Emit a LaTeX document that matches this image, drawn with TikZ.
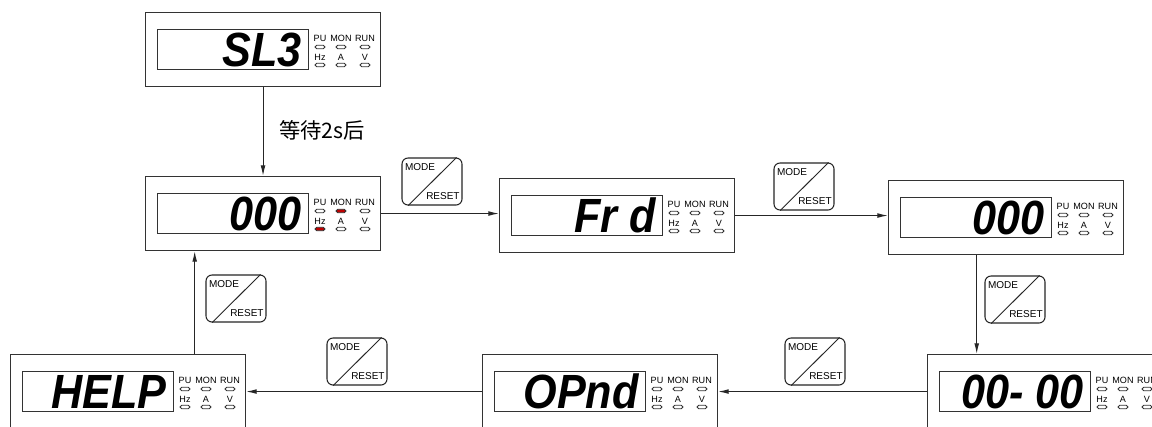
\documentclass[tikz,border=0pt]{standalone}
\usepackage{fontspec}
\setmainfont{Liberation Sans}
\newfontfamily\cjkfnt{Noto Sans CJK SC}
\usetikzlibrary{arrows.meta,calc}

\tikzset{
 ln/.style={draw=black!85, line width=0.8pt},
 dispbox/.style={draw=black!80, line width=0.8pt, minimum width=176.25pt, minimum height=55.5pt, inner sep=0pt, anchor=north west},
 screen/.style={draw=black!80, line width=0.7pt},
 dig/.style={inner sep=0pt, anchor=south east, font=\fontsize{36}{36}\selectfont\bfseries\itshape},
 ledlab/.style={inner sep=0pt, font=\fontsize{6.8}{6.8}\selectfont},
 led/.style={draw=black!80, line width=0.6pt, rounded corners=1.3pt, minimum width=7.5pt, minimum height=2.6pt, inner sep=0pt, fill=white},
 ledon/.style={led, fill=red!75!black},
 keybox/.style={draw=black!85, line width=0.8pt, rounded corners=4.5pt, minimum width=45pt, minimum height=35.25pt, inner sep=0pt},
 keytxt/.style={inner sep=0pt, font=\fontsize{7.5}{7.5}\selectfont},
 arr/.style={ln, -{Latex[length=8pt,width=3.6pt]}},
}

% name, left, top, text, MON led style, Hz led style
\newcommand\dispunit[6]{%
 \node[dispbox] (#1) at (#2,#3) {};
 \draw[screen] (#2+12,#3+17) rectangle (#2+163,#3+57);
 \node[dig] (#1t) at (#2+157,#3+55) {\scalebox{0.9}[1]{#4}};
 \node[ledlab] (#1a) at (#2+175,#3+26) {PU};
 \node[ledlab] (#1b) at (#2+196,#3+26) {MON};
 \node[ledlab] (#1c) at (#2+220,#3+26) {RUN};
 \node[led] (#1d) at (#2+175,#3+35) {};
 \node[#5] (#1e) at (#2+196,#3+35) {};
 \node[led] (#1f) at (#2+220,#3+35) {};
 \node[ledlab] (#1g) at (#2+175,#3+45) {Hz};
 \node[ledlab] (#1h) at (#2+196,#3+45) {A};
 \node[ledlab] (#1i) at (#2+220,#3+45) {V};
 \node[#6] (#1j) at (#2+175,#3+53) {};
 \node[led] (#1k) at (#2+196,#3+53) {};
 \node[led] (#1l) at (#2+220,#3+53) {};
}

% name, center x, center y
\newcommand\modekey[3]{%
 \node[keybox] (#1) at (#2,#3) {};
 \draw[ln, line width=0.7pt] ([xshift=5pt]#1.south west) -- ([xshift=-4.5pt]#1.north east);
 \node[keytxt, anchor=north west] (#1m) at ([shift={(2.5pt,-4pt)}]#1.north west) {MODE};
 \node[keytxt, anchor=south east] (#1r) at ([shift={(-2pt,4pt)}]#1.south east) {RESET};
}

\begin{document}
\begin{tikzpicture}[x=0.75pt,y=-0.75pt]
\useasboundingbox (0,0) rectangle (1152,426);
\clip (0,0) rectangle (1152,426);
\fill[white] (0,0) rectangle (1152,426);

\dispunit{b1}{145}{12}{SL3}{led}{led}
\dispunit{b2}{145}{176}{000}{ledon}{ledon}
\dispunit{b3}{499}{178}{Fr d}{led}{led}
\dispunit{b4}{888}{180}{000}{led}{led}
\dispunit{b5}{482}{354}{OPnd}{led}{led}
\dispunit{b6}{10}{354}{HELP}{led}{led}
\dispunit{b7}{927}{354}{00- 00}{led}{led}

\modekey{k1}{432}{181.5}
\modekey{k2}{804}{186.5}
\modekey{k3}{1015}{299.5}
\modekey{k4}{815}{361.5}
\modekey{k5}{357}{361.5}
\modekey{k6}{236}{298.5}

\node[inner sep=0pt, font=\cjkfnt\fontsize{16}{16}\selectfont] (t1) at (322,130) {等待2s后};

\draw[arr] (b1.south) -- (b2.north);
\draw[arr] (b2.east) -- (b2.east -| b3.west);
\draw[arr] (b3.east) -- (b3.east -| b4.west);
\draw[arr] ([xshift=-22pt]b4.south) -- ([xshift=-22pt]b4.south |- b7.north);
\draw[arr] (b7.west) -- (b5.east);
\draw[arr] (b5.west) -- (b6.east);
\draw[arr] ([xshift=50pt]b6.north) -- ([xshift=50pt]b6.north |- b2.south);
\end{tikzpicture}
\end{document}
